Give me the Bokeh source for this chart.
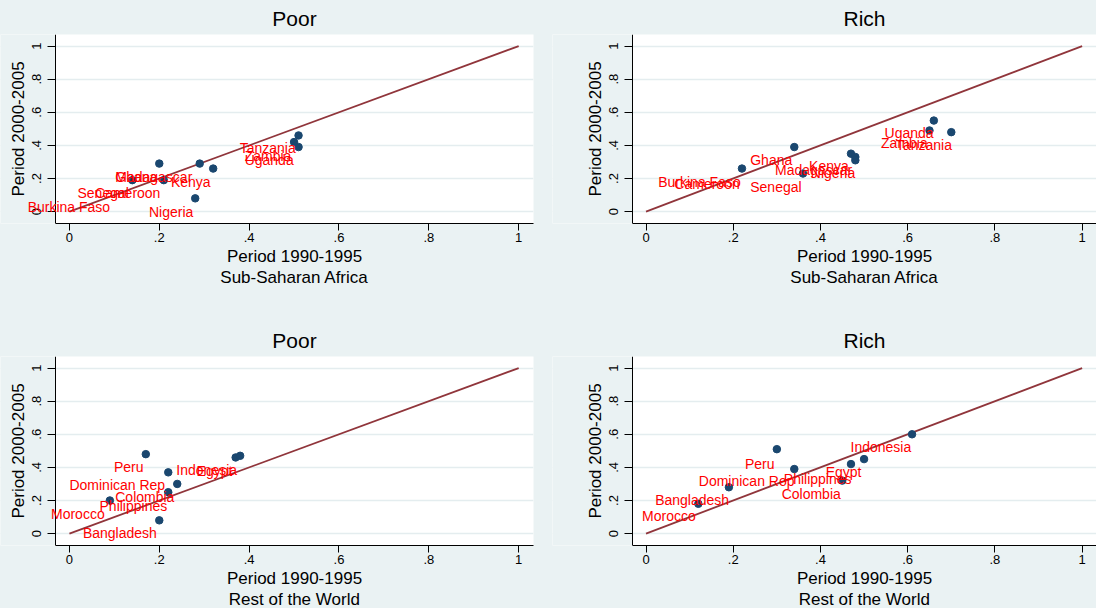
from bokeh.plotting import figure
from bokeh.layouts import gridplot
from bokeh.models import (Range1d, FixedTicker, Title, LabelSet, ColumnDataSource,
                          LinearAxis, BoxAnnotation)
from bokeh.core.properties import value
from bokeh.embed import file_html
from bokeh.resources import INLINE

# ---------------- data ----------------
tick_vals = [0, 0.2, 0.4, 0.6, 0.8, 1]
tick_labels = ["0", ".2", ".4", ".6", ".8", "1"]
diag_x = [0, 1]
diag_y = [0, 1]

# Sub-Saharan Africa, Poor
ssa_poor_x = [0.14, 0.20, 0.21, 0.29, 0.32, 0.28, 0.50, 0.51, 0.51]
ssa_poor_y = [0.19, 0.29, 0.19, 0.29, 0.26, 0.08, 0.42, 0.46, 0.39]
ssa_poor_names = ["Burkina Faso", "Senegal", "Cameroon", "Ghana", "Madagascar",
                  "Kenya", "Nigeria", "Tanzania", "Zambia", "Uganda"]
ssa_poor_lx = [-0.093, 0.018, 0.057, 0.102, 0.102, 0.226, 0.177, 0.379, 0.39, 0.39]
ssa_poor_ly = [0.028, 0.112, 0.112, 0.208, 0.208, 0.178, 0.0, 0.383, 0.335, 0.311]

# Sub-Saharan Africa, Rich
ssa_rich_x = [0.22, 0.34, 0.36, 0.47, 0.48, 0.48, 0.66, 0.65, 0.70]
ssa_rich_y = [0.26, 0.39, 0.23, 0.35, 0.33, 0.31, 0.55, 0.49, 0.48]
ssa_rich_names = ["Burkina Faso", "Cameroon", "Ghana", "Senegal", "Madagascar",
                  "Kenya", "Nigeria", "Uganda", "Zambia", "Tanzania"]
ssa_rich_lx = [0.028, 0.065, 0.239, 0.239, 0.296, 0.374, 0.378, 0.547, 0.539, 0.573]
ssa_rich_ly = [0.18, 0.168, 0.313, 0.148, 0.249, 0.275, 0.232, 0.472, 0.415, 0.401]

# Rest of the World, Poor
row_poor_x = [0.17, 0.22, 0.24, 0.22, 0.09, 0.20, 0.37, 0.38]
row_poor_y = [0.48, 0.37, 0.30, 0.25, 0.20, 0.08, 0.46, 0.47]
row_poor_names = ["Peru", "Indonesia", "Egypt", "Dominican Rep", "Colombia",
                  "Philippines", "Morocco", "Bangladesh"]
row_poor_lx = [0.099, 0.238, 0.283, 0.0, 0.102, 0.067, -0.041, 0.03]
row_poor_ly = [0.40, 0.387, 0.381, 0.294, 0.219, 0.166, 0.118, 0.004]

# Rest of the World, Rich
row_rich_x = [0.30, 0.34, 0.19, 0.12, 0.45, 0.47, 0.50, 0.61]
row_rich_y = [0.51, 0.39, 0.28, 0.18, 0.32, 0.42, 0.45, 0.60]
row_rich_names = ["Peru", "Dominican Rep", "Bangladesh", "Morocco", "Philippines",
                  "Colombia", "Egypt", "Indonesia"]
row_rich_lx = [0.227, 0.121, 0.021, -0.009, 0.316, 0.311, 0.412, 0.469]
row_rich_ly = [0.42, 0.315, 0.20, 0.104, 0.33, 0.24, 0.375, 0.525]

x_title = "Period 1990-1995"
y_title = "Period 2000-2005"

# ---------------- styling ----------------
BG = "#EAF2F3"
NAVY = "#1A476F"
MAROON = "#90353B"
FONT = "Liberation Sans"
AX_X0, AX_X1 = -0.031, 1.033      # plot-region extent (axis positions)
AX_Y0, AX_Y1 = -0.072, 1.07

# Arial/Liberation Sans advance widths (em) used to centre titles over the axis span
_W = {" ": .278, "-": .333, "P": .667, "R": .722, "S": .667, "A": .667, "W": .944,
      "a": .556, "b": .556, "c": .5, "d": .556, "e": .556, "f": .278, "h": .556,
      "i": .222, "l": .222, "n": .556, "o": .556, "r": .333, "s": .5, "t": .278,
      "u": .556}


def text_w(s, size):
    return sum(_W.get(ch, .556) for ch in s) * size


def make_panel(title, note, mx, my, names, lx, ly,
               width, height, axis_px, right, top, bottom):
    frame_w = width - right
    span = frame_w - axis_px
    scale = span / (AX_X1 - AX_X0)
    x_start = AX_X0 - axis_px / scale
    centre = axis_px + span / 2.0

    p = figure(width=width, height=height, output_backend="svg", toolbar_location=None,
               x_range=Range1d(x_start, AX_X1), y_range=Range1d(AX_Y0, AX_Y1),
               y_axis_location=None,
               min_border_left=0, min_border_right=right,
               min_border_top=top, min_border_bottom=bottom)
    p.background_fill_color = "white"
    p.border_fill_color = BG
    p.outline_line_color = None

    p.title.text = title
    p.title.text_font = FONT
    p.title.text_font_size = "21px"
    p.title.text_font_style = "normal"
    p.title.text_color = "black"
    p.title.align = "left"
    p.title.offset = centre - text_w(title, 21) / 2
    p.title.standoff = 9

    p.xgrid.grid_line_color = None
    p.ygrid.grid_line_color = "#E4EDEF"
    p.ygrid.grid_line_width = 1.6
    p.ygrid.ticker = FixedTicker(ticks=tick_vals)

    # area left of the y axis painted like the outer background
    p.add_layout(BoxAnnotation(right=AX_X0, fill_color=BG, fill_alpha=1.0,
                               line_color=None, level="underlay"))

    yax = LinearAxis(fixed_location=AX_X0)
    p.add_layout(yax, "left")
    overrides = dict(zip(tick_vals, tick_labels))
    for ax in (p.xaxis[0], yax):
        ax.ticker = FixedTicker(ticks=tick_vals)
        ax.major_label_overrides = overrides
        ax.major_label_text_font = FONT
        ax.major_label_text_font_size = "13px"
        ax.major_label_text_color = "black"
        ax.axis_label_text_font = FONT
        ax.axis_label_text_font_size = "17px"
        ax.axis_label_text_font_style = "normal"
        ax.axis_label_text_color = "black"
        ax.axis_line_color = "black"
        ax.major_tick_line_color = "black"
        ax.major_tick_in = 0
        ax.minor_tick_line_color = None
    xax = p.xaxis[0]
    xax.bounds = (AX_X0, AX_X1)
    xax.major_tick_out = 7
    xax.major_label_standoff = 2
    yax.bounds = (AX_Y0, AX_Y1)
    yax.major_tick_out = 8
    yax.major_label_standoff = 6
    yax.axis_label_standoff = 2
    yax.axis_label = y_title
    yax.major_label_orientation = "vertical"

    for txt in (x_title, note):
        p.add_layout(Title(text=txt, text_font=FONT, text_font_size="17px",
                           text_font_style="normal", text_color="black",
                           align="left", offset=centre - text_w(txt, 17) / 2,
                           standoff=0), "below")

    p.line(diag_x, diag_y, line_color=MAROON, line_width=1.8)
    p.scatter(mx, my, size=7.5, fill_color=NAVY, line_color=NAVY)
    src = ColumnDataSource(dict(x=lx, y=ly, name=names))
    p.add_layout(LabelSet(x="x", y="y", text="name", source=src,
                          text_color="#FF0000", text_font=value(FONT),
                          text_font_size="14px", text_align="left",
                          text_baseline="middle"))
    return p


p1 = make_panel("Poor", "Sub-Saharan Africa", ssa_poor_x, ssa_poor_y,
                ssa_poor_names, ssa_poor_lx, ssa_poor_ly, 552, 300, 55, 19, 33, 77)
p2 = make_panel("Rich", "Sub-Saharan Africa", ssa_rich_x, ssa_rich_y,
                ssa_rich_names, ssa_rich_lx, ssa_rich_ly, 544, 300, 80, 0, 33, 77)
p3 = make_panel("Poor", "Rest of the World", row_poor_x, row_poor_y,
                row_poor_names, row_poor_lx, row_poor_ly, 552, 308, 55, 19, 56, 62)
p4 = make_panel("Rich", "Rest of the World", row_rich_x, row_rich_y,
                row_rich_names, row_rich_lx, row_rich_ly, 544, 308, 80, 0, 56, 62)

grid = gridplot([[p1, p2], [p3, p4]], toolbar_location=None)
grid.styles = {"background-color": BG}

open("out.html", "w").write(file_html(grid, INLINE))
